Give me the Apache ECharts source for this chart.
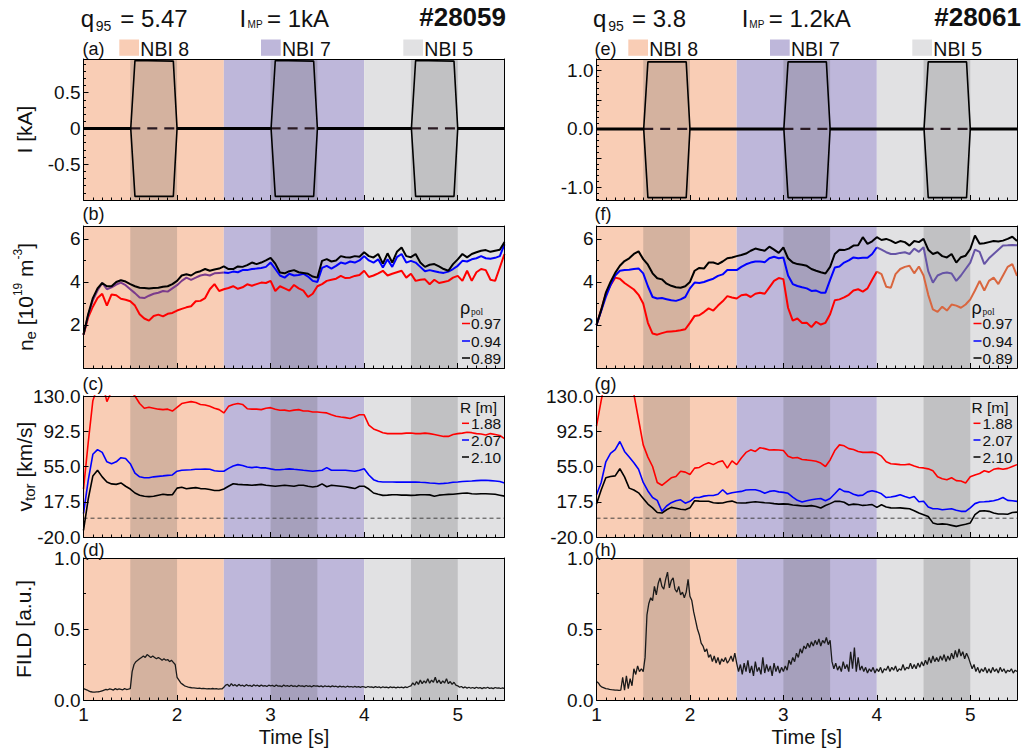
<!DOCTYPE html>
<html><head><meta charset="utf-8">
<script src="https://cdn.jsdelivr.net/npm/echarts@6/dist/echarts.min.js"></script>
<style>html,body{margin:0;padding:0;background:#fff}#c{width:1022px;height:754px}</style>
</head><body><div id="c"></div><script>
const FONT = '"Liberation Sans", Arial, sans-serif';

// ---------- categories / labels ----------
const timeTicks = [1, 2, 3, 4, 5];
const nbiNames = ['NBI 8', 'NBI 7', 'NBI 5'];
const nbiStart = [1.0, 2.5, 4.0];
const nbiEnd = [2.5, 4.0, 5.5];
const nbiColors = ['#f9cdb5', '#beb7da', '#e1e1e3'];
const mpStart = [1.5, 3.0, 4.5];
const mpEnd = [2.0, 3.5, 5.0];
const shots = ['#28059', '#28061'];
const q95 = ['5.47', '3.8'];
const iMP = ['1kA', '1.2kA'];
const panelLetters = [['(a)', '(b)', '(c)', '(d)'], ['(e)', '(f)', '(g)', '(h)']];
const rhoLabels = ['0.97', '0.94', '0.89'];
const rLabels = ['1.88', '2.07', '2.10'];
const lineColors = ['#ff0000', '#0000ff', '#000000'];

// ---------- MP coil current (envelope corners) ----------
const mpTime = [1.0, 1.505, 1.55, 1.96, 2.0, 3.005, 3.05, 3.46, 3.5, 4.505, 4.55, 4.96, 5.0, 5.5];
const mpUpperL = [0, 0, 0.95, 0.94, 0, 0, 0.95, 0.94, 0, 0, 0.95, 0.94, 0, 0];
const mpLowerL = [0, 0, -0.95, -0.95, 0, 0, -0.95, -0.95, 0, 0, -0.95, -0.95, 0, 0];
const mpUpperR = [0, 0, 1.15, 1.15, 0, 0, 1.15, 1.15, 0, 0, 1.15, 1.15, 0, 0];
const mpLowerR = [0, 0, -1.18, -1.18, 0, 0, -1.18, -1.18, 0, 0, -1.18, -1.18, 0, 0];

// ---------- n_e (10^19 m^-3), samples every 0.05 s from 1.00 s ----------
const neRedL = [1.55,2.35,2.85,3.25,3.45,2.9,3.42,3.38,3.22,3.17,
 3.1,2.9,2.5,2.3,2.2,2.42,2.48,2.4,2.52,2.56,
 2.67,2.75,2.82,2.87,3.1,3.12,3.25,3.66,3.9,3.58,
 3.66,3.72,3.8,3.68,3.75,3.89,3.82,3.9,3.97,3.95,
 4.05,3.58,3.8,3.7,3.6,3.86,3.7,3.6,3.3,3.45,
 3.8,3.9,4.05,4.1,4.15,4.28,4.18,4.2,4.28,4.32,
 4.52,4.23,4.3,4.4,4.52,4.3,4.38,4.45,4.52,4.2,
 4.38,4.05,4.1,4.12,3.89,4.1,3.95,4.0,4.05,4.2,
 4.28,4.05,4.52,4.05,4.45,4.6,4.55,4.1,4.05,4.67,
 5.3];
const neBlueL = [1.55,2.45,3.15,3.6,3.95,3.66,3.75,3.88,3.97,3.85,
 3.66,3.48,3.28,3.25,3.36,3.45,3.5,3.58,3.55,3.7,
 3.85,4.05,4.2,4.1,4.2,4.3,4.35,4.3,4.4,4.42,
 4.44,4.42,4.48,4.45,4.55,4.55,4.6,4.62,4.65,4.7,
 4.9,4.6,4.3,4.2,4.38,4.3,4.32,4.38,4.25,4.05,
 4.0,4.65,4.75,4.62,4.75,4.9,4.85,4.95,4.9,5.0,
 5.2,5.0,4.9,5.05,4.67,5.05,4.7,5.15,5.3,4.9,
 4.98,4.9,4.7,4.5,4.55,4.5,4.45,4.42,4.48,4.6,
 4.75,4.98,4.95,5.05,5.1,5.2,5.1,5.08,5.12,5.2,
 5.75];
const neBlackL = [1.55,2.5,3.25,3.7,3.95,3.8,3.8,4.0,4.08,4.02,
 3.9,3.8,3.73,3.72,3.7,3.72,3.73,3.78,3.8,3.9,
 4.05,4.3,4.36,4.3,4.44,4.5,4.6,4.52,4.58,4.62,
 4.72,4.6,4.6,4.72,4.7,4.78,4.9,4.83,4.9,5.0,
 5.12,4.85,4.44,4.4,4.5,4.55,4.45,4.42,4.38,4.25,
 4.2,4.98,5.06,4.95,5.0,5.2,5.15,5.14,5.2,5.17,
 5.38,5.2,5.14,5.3,4.85,5.33,4.9,5.4,5.6,5.2,
 5.15,5.3,4.9,4.7,4.8,4.83,4.72,4.6,4.52,4.83,
 5.05,5.3,5.14,5.3,5.38,5.45,5.48,5.4,5.45,5.5,
 5.85];
const neRedR = [2.0,2.7,3.45,3.85,4.2,4.15,3.95,3.8,3.65,3.4,
 3.0,2.1,1.6,1.55,1.62,1.68,1.7,1.72,1.75,1.8,
 2.1,2.42,2.45,2.6,2.77,2.67,2.9,3.1,3.34,3.28,
 3.23,3.38,3.42,3.3,3.45,3.5,3.45,3.75,4.05,4.18,
 4.13,2.8,2.2,2.3,2.09,2.1,1.9,2.15,2.02,2.1,
 2.5,3.15,3.19,3.28,3.4,3.6,3.66,3.55,3.7,4.1,
 4.48,4.36,3.78,3.73,4.36,4.6,4.7,4.75,4.4,4.72,
 4.3,3.4,2.72,2.61,2.85,2.67,2.95,2.9,2.8,2.95,
 3.19,3.6,4.05,3.6,4.05,4.2,3.9,4.3,4.7,4.83,
 4.28];
const neBlueR = [2.0,2.65,3.3,3.85,4.3,4.52,4.55,4.57,4.6,4.63,
 4.4,3.8,3.3,3.23,3.25,3.2,3.15,3.12,3.19,3.3,
 3.7,3.97,3.95,4.0,4.08,4.15,4.28,4.35,4.55,4.55,
 4.55,4.7,4.82,4.9,4.95,4.95,4.92,5.1,5.17,5.1,
 5.14,4.3,3.9,3.81,3.75,3.7,3.58,3.6,3.5,3.5,
 4.1,4.67,4.72,4.9,5.0,5.14,5.1,5.12,5.12,5.3,
 5.61,5.5,5.38,5.3,5.3,5.35,5.38,5.3,5.55,5.4,
 5.61,4.5,3.97,4.3,4.4,4.44,4.39,4.05,4.3,4.6,
 4.9,5.5,5.4,4.83,5.1,5.3,5.5,5.69,5.7,5.72,
 5.7];
const neBlackR = [2.0,2.7,3.5,4.0,4.42,4.75,4.97,5.1,5.3,5.42,
 5.06,4.8,4.4,4.17,4.12,3.92,3.82,3.75,3.73,3.8,
 4.0,4.52,4.65,4.62,4.9,4.9,4.83,4.95,5.1,5.14,
 5.2,5.25,5.32,5.45,5.55,5.5,5.45,5.64,5.5,5.35,
 5.6,5.1,4.9,4.83,4.8,4.75,4.6,4.52,4.45,4.39,
 4.7,5.3,5.5,5.48,5.55,5.69,5.7,6.08,5.77,5.89,
 6.08,5.95,6.0,5.92,5.8,5.9,5.85,5.69,5.9,5.85,
 6.0,5.5,5.3,5.38,5.2,5.14,5.3,4.9,5.15,5.22,
 5.53,6.16,5.77,5.8,5.85,5.9,5.88,5.92,6.0,6.1,
 5.9];

// ---------- v_tor (km/s), samples every 0.05 s from 1.00 s ----------
const vRedL = [31,80,125,140,145,124,135,145,145,140,
 135,130,122,117,118,117,116,115.5,116,114,
 118,122,123,124,123,121,120.5,119,117,115.5,
 112,119,121,122,121,116.5,116,116,115.5,117,
 117.6,116,114.8,115,114,115,115.5,114,114,113,
 113,112.5,112,110,108.5,107.7,107,106,108,110,
 110,99,95,93,91,90,90,90,90,90.5,
 90.6,90,90,90.5,90,89,88,87,87,89,
 90,90.5,91.5,91,90,89.5,88.5,90,89,88,
 84.6];
const vBlueL = [5,40,68,73,70,60,58,60,64.4,63.5,
 58,48,44,43,43,44,44.5,45,45.6,46,
 50,51,51.3,51.6,52,52,52.3,52,50.5,50,
 50,53,55.5,57,56,54.5,53.8,54.5,53.5,53.5,
 52.5,51.6,51.6,52,52.5,52,51.6,51,50.5,50,
 50.5,51,53.8,51,51,51,51,50.5,50,51,
 52.7,46,41,39,38.5,38.5,38.5,38.4,38.5,38.4,
 38.4,38.5,38.2,38,37.5,37.2,36.7,37,37.5,38.2,
 38.5,39,39.3,39.6,40,40.2,40.3,40,39.6,39,
 37.5];
const vBlackL = [-13,20,45,51,44,38.5,36.5,36,37.5,34,
 31,26.8,24.5,23.3,23,23.3,24.5,25.4,24.8,25,
 32,33,31.4,32,32.5,31.5,31.4,30.5,29.5,29.5,
 31,34,36.7,36,35.7,35.5,35,35.5,36,35,
 34.5,34,34.5,35,34.5,34,35,35,34,33.2,
 34,36.5,33.5,35,34.5,34,33.5,32.5,31.5,34,
 34,31,26.8,25.5,24.3,24.5,25,25,24.5,24.5,
 24.3,24.5,25,25,24.8,23.3,24.5,25,25.3,25.5,
 26,26.5,26.8,26,25.8,26,26,25.8,25.5,24.5,
 23.5];
const vRedR = [98,125,150,160,165,165,160,150,132,105,
 78,65,55,38,35,39,43,44.4,50,49,
 46.5,53.3,54,57,59,57,59.7,61,53.3,61,
 57,64,70,72.7,71,75,74,72.5,72.7,72.5,
 72,66,64,64.5,62.5,62,61.3,60.5,58.6,55,
 62,72,78,77,74,73,71,70,70,70.3,
 69,66,60,58,57.5,57,56.8,57.5,55.5,54,
 53.5,52.5,50.5,44,42,40.9,43,40,39.5,37.5,
 44,46,47.5,50.5,49,52,53,52,53,55,
 57];
const vBlueR = [25,38,60,69,73,81.6,71,65,59,52,
 38,29,22,19,7.3,13,16.5,18.5,19.6,16,
 18,22,22,23.5,24.2,24.2,25.5,30.3,25.7,27,
 27.8,28.5,30,30.3,30.3,29,26.5,28.5,29.2,28,
 27.5,26.5,22.5,19,17.2,18.5,19.6,20.5,21,18.5,
 21,26,31.4,28.5,28,25.5,24,24.5,28,29.2,
 28,26,22,22.5,23.5,25,23,21.5,23,17.5,
 18,12,10,10,9,9.5,10,8.5,7.3,7.3,
 11,15.5,17.2,17.5,17.9,18.5,20,22,19,18.5,
 17.9];
const vBlackR = [15,30,43,44.4,45,52.6,44,32,30,27,
 21,15,11,6,5.5,9,11.5,10.5,9.5,9,
 11,18.6,18.2,18,18,16.5,16,16.1,17.5,18.2,
 16.5,16.1,16.3,17,17.5,17,16.5,16.1,15.5,15,
 15.2,15,14,13.6,13,12.8,13.4,12.5,10.8,13.5,
 15.5,17.9,18,17,14,15,14.5,13.6,14,14.5,
 11.5,14.3,12,11,10.8,11,10.5,10,8,5.5,
 3.7,1.9,-5,-6.5,-6,-6.5,-7.6,-8.7,-7.5,-6.5,
 -5,3.7,7.5,8,7.3,5.5,4.5,4.5,4.2,6,
 6.5];

// ---------- FILD (a.u.), samples every 0.02 s from 1.00 s ----------
const fildL = [0.08,0.075,0.07,0.062,0.058,0.056,0.056,0.057,0.058,0.06,0.065,0.07,0.074,0.072,0.078,0.075,0.07,0.08,0.073,0.078,0.075,0.072,0.08,0.074,0.076,
 0.08,0.2,0.25,0.27,0.28,0.29,0.3,0.31,0.3,0.32,0.31,0.3,0.31,0.3,0.29,0.3,0.29,0.28,0.29,0.28,0.285,0.27,0.28,0.265,0.25,
 0.16,0.14,0.12,0.11,0.1,0.095,0.09,0.088,0.085,0.085,0.084,0.082,0.083,0.08,0.082,0.08,0.078,0.08,0.079,0.081,0.078,0.08,0.077,0.079,0.078,
 0.09,0.105,0.11,0.095,0.115,0.1,0.108,0.097,0.11,0.1,0.104,0.096,0.108,0.1,0.103,0.095,0.107,0.099,0.104,0.096,0.106,0.098,0.102,0.095,0.104,
 0.099,0.103,0.095,0.106,0.098,0.1,0.094,0.105,0.097,0.101,0.095,0.104,0.096,0.1,0.093,0.103,0.097,0.1,0.094,0.102,0.096,0.099,0.093,0.101,0.097,
 0.1,0.094,0.099,0.092,0.1,0.095,0.098,0.092,0.099,0.094,0.097,0.091,0.098,0.093,0.096,0.09,0.097,0.092,0.095,0.09,0.096,0.091,0.094,0.089,0.095,
 0.092,0.088,0.095,0.09,0.093,0.087,0.094,0.089,0.092,0.086,0.093,0.088,0.091,0.086,0.092,0.088,0.09,0.085,0.091,0.087,0.09,0.086,0.092,0.088,0.095,
 0.1,0.12,0.105,0.13,0.11,0.14,0.115,0.135,0.12,0.15,0.118,0.14,0.125,0.16,0.12,0.14,0.115,0.135,0.12,0.15,0.115,0.13,0.11,0.125,0.105,
 0.1,0.09,0.095,0.085,0.092,0.084,0.09,0.083,0.088,0.082,0.09,0.084,0.088,0.08,0.087,0.083,0.09,0.082,0.086,0.08,0.088,0.083,0.086,0.081,0.085,
 0.08];
const fildR = [0.13,0.12,0.1,0.09,0.085,0.08,0.078,0.075,0.073,0.072,0.07,0.07,0.068,0.07,0.16,0.07,0.17,0.08,0.15,0.1,0.22,0.18,0.24,0.2,0.22,
 0.2,0.3,0.6,0.68,0.72,0.7,0.8,0.74,0.82,0.86,0.8,0.78,0.85,0.9,0.79,0.84,0.86,0.78,0.76,0.8,0.74,0.76,0.72,0.76,0.85,
 0.73,0.7,0.62,0.56,0.5,0.46,0.4,0.38,0.34,0.36,0.3,0.32,0.27,0.31,0.26,0.3,0.25,0.29,0.27,0.3,0.26,0.28,0.31,0.27,0.33,
 0.26,0.2,0.25,0.18,0.26,0.2,0.28,0.19,0.24,0.17,0.27,0.2,0.23,0.18,0.3,0.19,0.25,0.2,0.24,0.17,0.26,0.2,0.24,0.19,0.23,
 0.2,0.24,0.21,0.28,0.25,0.3,0.27,0.33,0.3,0.36,0.33,0.38,0.36,0.4,0.37,0.41,0.38,0.42,0.39,0.43,0.38,0.42,0.4,0.44,0.39,
 0.42,0.27,0.22,0.26,0.21,0.24,0.2,0.27,0.22,0.25,0.2,0.34,0.22,0.37,0.2,0.3,0.21,0.24,0.2,0.23,0.19,0.22,0.2,0.23,0.19,
 0.22,0.2,0.23,0.19,0.22,0.21,0.24,0.2,0.23,0.21,0.24,0.2,0.22,0.21,0.25,0.21,0.23,0.22,0.26,0.22,0.25,0.22,0.26,0.23,0.27,
 0.24,0.28,0.25,0.3,0.26,0.31,0.27,0.3,0.27,0.31,0.28,0.32,0.27,0.31,0.28,0.33,0.29,0.35,0.3,0.36,0.31,0.34,0.29,0.33,0.3,
 0.26,0.22,0.25,0.2,0.23,0.19,0.22,0.2,0.23,0.19,0.22,0.19,0.23,0.2,0.22,0.19,0.23,0.2,0.22,0.19,0.21,0.2,0.22,0.19,0.21,
 0.2];

// ---------- helpers ----------
const DT_PROFILE = 0.05, DT_FILD = 0.02;
function sampled(vals, dt) { return vals.map((v, i) => [Math.round((1 + i * dt) * 1000) / 1000, v]); }
function zip(ts, vs) { return ts.map((t, i) => [t, vs[i]]); }
function steps(a, b, d, skip) { const out = []; for (let v = a; v <= b + 1e-9; v += d) { const r = Math.round(v * 100) / 100; if (!skip.some(s => Math.abs(s - r) < 1e-9)) out.push(r); } return out; }

const colLeft = [83.5, 596.5], colWidth = [421, 420.5];
const rowTop = [59, 226, 396, 558], rowH = [141, 142, 141, 142];
const DARK = 'rgba(80,80,80,0.22)';
const INK = '#111';

const minorT = steps(1.1, 5.4, 0.1, timeTicks);
const yCfg = [
  [
    { min: -1.0, max: 0.97, labels: [-0.5, 0, 0.5], major: [-0.5, 0, 0.5], minor: steps(-0.9, 0.9, 0.1, [-0.5, 0, 0.5]), fmt: v => v === 0 ? '0' : v.toFixed(1) },
    { min: 0, max: 6.6, labels: [2, 4, 6], major: [2, 4, 6], minor: [1, 3, 5], fmt: v => String(v) },
    { min: -20, max: 130, labels: [-20, 17.5, 55, 92.5, 130], major: [17.5, 55, 92.5], minor: [], fmt: v => v.toFixed(1) },
    { min: 0, max: 1, labels: [0, 0.5, 1], major: [0.5], minor: [0.25, 0.75], fmt: v => v.toFixed(1) }
  ],
  [
    { min: -1.22, max: 1.2, labels: [-1, 0, 1], major: [-1, -0.5, 0, 0.5, 1], minor: steps(-1.2, 1.2, 0.1, [-1, -0.5, 0, 0.5, 1]), fmt: v => v.toFixed(1) },
    { min: 0, max: 6.6, labels: [2, 4, 6], major: [2, 4, 6], minor: [1, 3, 5], fmt: v => String(v) },
    { min: -20, max: 130, labels: [-20, 17.5, 55, 92.5, 130], major: [17.5, 55, 92.5], minor: [], fmt: v => v.toFixed(1) },
    { min: 0, max: 1, labels: [0, 0.5, 1], major: [0.5], minor: [0.25, 0.75], fmt: v => v.toFixed(1) }
  ]
];
// colour changes along some n_e traces: [column, trace, switch time, colour before, colour after]
const colourSplits = [[0, 1, 2.5, '#7b3b8c', '#0000ff'], [1, 0, 4.0, '#ff0000', '#d9663f'], [1, 1, 4.0, '#0000ff', '#6654a6']];

const grids = [], xAxes = [], yAxes = [], series = [];
const bandData = [];
nbiStart.forEach((s, i) => bandData.push([{ xAxis: s, itemStyle: { color: nbiColors[i] } }, { xAxis: nbiEnd[i] }]));
mpStart.forEach((s, i) => bandData.push([{ xAxis: s, itemStyle: { color: DARK } }, { xAxis: mpEnd[i] }]));

function lineSeries(g, data, color, width, extra) {
  return Object.assign({
    type: 'line', xAxisIndex: 3 * g, yAxisIndex: 3 * g, data, showSymbol: false, symbol: 'none',
    lineStyle: { color, width }, z: 3, silent: true, animation: false, clip: true
  }, extra || {});
}

for (let c = 0; c < 2; c++) {
  for (let r = 0; r < 4; r++) {
    const g = c * 4 + r;
    const yc = yCfg[c][r];
    grids.push({ left: colLeft[c], top: rowTop[r], width: colWidth[c], height: rowH[r] });
    xAxes.push({ type: 'value', gridIndex: g, position: 'bottom', min: 1, max: 5.5, z: 10,
      axisLine: { show: true, onZero: false, lineStyle: { color: '#000', width: 1 } },
      axisTick: { show: true, inside: true, length: 5, customValues: timeTicks, lineStyle: { color: '#000' } },
      axisLabel: { show: r === 3, customValues: timeTicks, fontSize: 19, color: INK, fontFamily: FONT, margin: 5 },
      splitLine: { show: false } });
    xAxes.push({ type: 'value', gridIndex: g, position: 'bottom', min: 1, max: 5.5, z: 10,
      axisLine: { show: false, onZero: false },
      axisTick: { show: true, inside: true, length: 2.5, customValues: minorT, lineStyle: { color: '#000' } },
      axisLabel: { show: false }, splitLine: { show: false } });
    xAxes.push({ type: 'value', gridIndex: g, position: 'top', min: 1, max: 5.5, z: 10,
      axisLine: { show: true, onZero: false, lineStyle: { color: '#000', width: 1 } },
      axisTick: { show: false }, axisLabel: { show: false }, splitLine: { show: false } });
    yAxes.push({ type: 'value', gridIndex: g, position: 'left', min: yc.min, max: yc.max, z: 10,
      axisLine: { show: true, onZero: false, lineStyle: { color: '#000', width: 1 } },
      axisTick: { show: true, inside: true, length: 5, customValues: yc.major, lineStyle: { color: '#000' } },
      axisLabel: { show: true, customValues: yc.labels, formatter: yc.fmt, fontSize: 19, color: INK, fontFamily: FONT, margin: 3 },
      splitLine: { show: false } });
    yAxes.push({ type: 'value', gridIndex: g, position: 'left', min: yc.min, max: yc.max, z: 10,
      axisLine: { show: false, onZero: false },
      axisTick: { show: yc.minor.length > 0, inside: true, length: 2.5, customValues: yc.minor.length ? yc.minor : [yc.min], lineStyle: { color: '#000' } },
      axisLabel: { show: false }, splitLine: { show: false } });
    yAxes.push({ type: 'value', gridIndex: g, position: 'right', min: yc.min, max: yc.max, z: 10,
      axisLine: { show: true, onZero: false, lineStyle: { color: '#000', width: 1 } },
      axisTick: { show: false }, axisLabel: { show: false }, splitLine: { show: false } });

    series.push({ type: 'line', xAxisIndex: 3 * g, yAxisIndex: 3 * g, data: [[1, yc.min]], symbol: 'none', showSymbol: false,
      lineStyle: { width: 0 }, z: 1, silent: true,
      markArea: { silent: true, label: { show: false }, data: bandData } });

    if (r === 0) {
      const up = c === 0 ? mpUpperL : mpUpperR;
      const lo = c === 0 ? mpLowerL : mpLowerR;
      const base = [], dash = [];
      base.push([1, 0]);
      mpStart.forEach((s, i) => {
        base.push([s, 0]); base.push([(s + mpEnd[i]) / 2, null]); base.push([mpEnd[i], 0]);
        dash.push([s, 0]); dash.push([mpEnd[i], 0]); dash.push([mpEnd[i] + 0.25, null]);
      });
      base.push([5.5, 0]);
      series.push(lineSeries(g, dash, '#2a1a22', 2.2, { lineStyle: { color: '#2a1a22', width: 2.2, type: [10, 7] } }));
      series.push(lineSeries(g, zip(mpTime, up), '#000', 1.6));
      series.push(lineSeries(g, zip(mpTime, lo), '#000', 1.6));
      series.push(lineSeries(g, base, '#000', 3));
    } else if (r === 1) {
      const sets = c === 0 ? [neRedL, neBlueL, neBlackL] : [neRedR, neBlueR, neBlackR];
      sets.forEach((vals, k) => {
        const data = sampled(vals, DT_PROFILE);
        const sp = colourSplits.find(s => s[0] === c && s[1] === k);
        if (sp) {
          series.push(lineSeries(g, data.filter(d => d[0] <= sp[2] + 1e-9), sp[3], 2));
          series.push(lineSeries(g, data.filter(d => d[0] >= sp[2] - 1e-9), sp[4], 2));
        } else {
          series.push(lineSeries(g, data, lineColors[k], 2));
        }
      });
    } else if (r === 2) {
      const sets = c === 0 ? [vRedL, vBlueL, vBlackL] : [vRedR, vBlueR, vBlackR];
      series.push(lineSeries(g, [[1, 0], [5.5, 0]], '#333', 0.9, { lineStyle: { color: '#333', width: 0.9, type: [4, 3] } }));
      sets.forEach((vals, k) => series.push(lineSeries(g, sampled(vals, DT_PROFILE), lineColors[k], 1.6)));
    } else {
      series.push(lineSeries(g, sampled(c === 0 ? fildL : fildR, DT_FILD), '#1a1a1a', 1.3));
    }
  }
}

// ---------- text / graphic ----------
const G = [];
function T(x, y, text, fs, style, el) {
  G.push(Object.assign({ type: 'text', x, y, z: 100, silent: true,
    style: Object.assign({ text, fontSize: fs, fontFamily: FONT, fill: INK, align: 'left', verticalAlign: 'middle' }, style || {}) }, el || {}));
}
const titleX = [
  { q: 80.7, s: 95.8, eq: 120.3, I: 239.5, mp: 247.6, eqI: 267, shot: 506 },
  { q: 593, s: 608.2, eq: 632, I: 741.8, mp: 749.3, eqI: 768.7, shot: 1021 }
];
const legSq = [[119.3, 261, 403.3], [628.3, 770, 912.3]];
const letterX = [83, 595];
const letterY = [49, 213.5, 384, 550];
for (let c = 0; c < 2; c++) {
  const p = titleX[c];
  T(p.q, 18, 'q', 24);
  T(p.s, 25.5, '95', 14);
  T(p.eq, 18, '= ' + q95[c], 24);
  T(p.I, 18, 'I', 24);
  T(p.mp, 24.5, 'MP', 10);
  T(p.eqI, 18, '= ' + iMP[c], 24);
  T(p.shot, 17, shots[c], 26, { align: 'right', fontWeight: 'bold' });
  for (let r = 0; r < 4; r++) T(letterX[c] - 0.5, letterY[r], panelLetters[c][r], 18);
  nbiNames.forEach((nm, i) => {
    G.push({ type: 'rect', z: 100, silent: true, shape: { x: legSq[c][i], y: 39.5, width: 19.7, height: 16.3 }, style: { fill: nbiColors[i] } });
    T(legSq[c][i] + 21, 48.5, nm, 19.5);
  });
  const lx = c === 0 ? 460 : 971.5;
  T(lx, 307.5, 'ρ', 18);
  T(lx + 11, 311.5, 'pol', 9.5, { fontFamily: '"Liberation Serif", "DejaVu Serif", serif' });
  const rowsY1 = [323.5, 341, 358];
  rhoLabels.forEach((lab, k) => {
    G.push({ type: 'line', z: 100, silent: true, shape: { x1: lx + 2, y1: rowsY1[k], x2: lx + 10, y2: rowsY1[k] }, style: { stroke: lineColors[k], lineWidth: 1.5 } });
    T(lx + 11, rowsY1[k], lab, 15.5);
  });
  T(lx, 407.8, 'R [m]', 15.5);
  const rowsY2 = [423.3, 440, 457];
  rLabels.forEach((lab, k) => {
    G.push({ type: 'line', z: 100, silent: true, shape: { x1: lx + 2, y1: rowsY2[k], x2: lx + 9, y2: rowsY2[k] }, style: { stroke: lineColors[k], lineWidth: 1.5 } });
    T(lx + 11, rowsY2[k], lab, 15.5);
  });
  T(colLeft[c] + colWidth[c] / 2, 737, 'Time [s]', 20, { align: 'center' });
}
const richY = {
  m: { fontSize: 21, fontFamily: FONT, lineHeight: 26, verticalAlign: 'middle', fill: INK },
  s: { fontSize: 15, fontFamily: FONT, lineHeight: 15, verticalAlign: 'bottom', fill: INK },
  p: { fontSize: 12, fontFamily: FONT, lineHeight: 12, verticalAlign: 'top', fill: INK }
};
function YT(y, text, cx) {
  G.push({ type: 'text', x: cx, y, rotation: Math.PI / 2, z: 100, silent: true,
    style: { text, rich: richY, fontSize: 21, fontFamily: FONT, fill: INK, align: 'center', verticalAlign: 'middle' } });
}
YT(129.5, '{m|I [kA]}', 24);
YT(297, '{m|n}{s|e}{m| [10}{p|19}{m| m}{p|-3}{m|]}', 25);
YT(466.5, '{m|v}{s|tor}{m| [km/s]}', 24);
YT(629, '{m|FILD [a.u.]}', 23);

const chart = echarts.init(document.getElementById('c'), null, { renderer: 'svg', width: 1022, height: 754 });
chart.setOption({
  animation: false,
  backgroundColor: '#ffffff',
  textStyle: { fontFamily: FONT },
  grid: grids,
  xAxis: xAxes,
  yAxis: yAxes,
  series,
  graphic: { elements: G }
});
</script></body></html>
